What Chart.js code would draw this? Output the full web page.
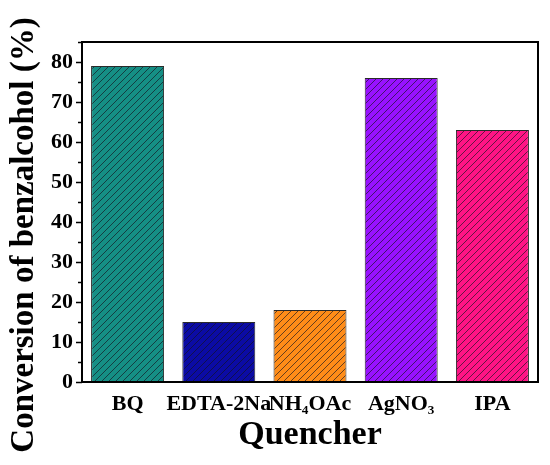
<!DOCTYPE html>
<html>
<head>
<meta charset="utf-8">
<title>Conversion of benzalcohol</title>
<script src="https://cdn.jsdelivr.net/npm/chart.js@4.4.1/dist/chart.umd.min.js"></script>
<style>
  body { margin: 0; background: #fff; }
  #wrap { width: 550px; height: 465px; }
</style>
</head>
<body>
<div id="wrap"><canvas id="QuencherCanvas" width="550" height="465"></canvas></div>
<script>
//------------------------------------------------------------------------------------------------------------
// Data
//------------------------------------------------------------------------------------------------------------
const quenchers = ['BQ', 'EDTA-2Na', 'NH\u2084OAc', 'AgNO\u2083', 'IPA']
const conversion = [79, 15, 18, 76, 63]
const barColors = ['#158f85', '#0b0ba4', '#ff8c18', '#9812ff', '#ff1485']
const yTicks = [0, 10, 20, 30, 40, 50, 60, 70, 80]
const yMax = 85

const serif = "'Liberation Serif', 'Times New Roman', serif"
const quencherCanvas = document.getElementById('QuencherCanvas')

// diagonal hatch fill like the origin plot
function makeHatch(color) {
    let size = 7
    let c = document.createElement('canvas')
    c.width = size
    c.height = size
    let ctx = c.getContext('2d')
    ctx.fillStyle = color
    ctx.fillRect(0, 0, size, size)
    ctx.strokeStyle = 'rgba(20,20,30,0.65)'
    ctx.lineWidth = 1
    ctx.beginPath()
    ctx.moveTo(-1, size + 1)
    ctx.lineTo(size + 1, -1)
    ctx.moveTo(-1, 1)
    ctx.lineTo(1, -1)
    ctx.moveTo(size - 1, size + 1)
    ctx.lineTo(size + 1, size - 1)
    ctx.stroke()
    return quencherCanvas.getContext('2d').createPattern(c, 'repeat')
}

// frame, tick marks and the rotated y title
const framePlugin = {
    id: 'frame',
    afterDraw(chart) {
        let ctx = chart.ctx
        let a = chart.chartArea
        let y = chart.scales.y
        ctx.save()
        ctx.strokeStyle = '#000'
        ctx.lineWidth = 2
        ctx.strokeRect(a.left, a.top, a.right - a.left, a.bottom - a.top)
        ctx.lineWidth = 1.5
        for (let v = 0; v <= yMax; v += 5) {
            let py = Math.round(y.getPixelForValue(v)) + 0.5
            let len = (v % 10 == 0) ? 6 : 4
            ctx.beginPath()
            ctx.moveTo(a.left, py)
            ctx.lineTo(a.left - len, py)
            ctx.stroke()
        }
        ctx.translate(24, 235)
        ctx.rotate(-Math.PI / 2)
        ctx.fillStyle = '#000'
        ctx.font = "bold 33px " + serif
        ctx.textAlign = 'center'
        ctx.textBaseline = 'middle'
        ctx.fillText('Conversion of benzalcohol (%)', 0, 0)
        ctx.restore()
    }
}

var quencherChart = new Chart(quencherCanvas, {
    type: 'bar',
    data: {
        labels: quenchers,
        datasets: [{
            data: conversion,
            backgroundColor: barColors.map(col => makeHatch(col)),
            borderColor: '#2a2a2a',
            borderWidth: 1,
            barPercentage: 0.8,
            categoryPercentage: 1
        }]
    },
    options: {
        responsive: false,
        animation: false,
        layout: { padding: { top: 42, right: 12, left: 0, bottom: 0 } },
        plugins: {
            legend: { display: false },
            tooltip: { enabled: false }
        },
        scales: {
            x: {
                grid: { display: false, drawTicks: false },
                border: { display: false },
                ticks: {
                    color: '#000',
                    padding: 9,
                    maxRotation: 0,
                    autoSkip: false,
                    font: { family: serif, size: 22, weight: 'bold' }
                },
                title: {
                    display: true,
                    text: 'Quencher',
                    color: '#000',
                    padding: { top: 0, bottom: 9 },
                    font: { family: serif, size: 34, weight: 'bold' }
                },
                afterFit: s => { s.height = 83 }
            },
            y: {
                min: 0,
                max: yMax,
                grid: { display: false, drawTicks: false },
                border: { display: false },
                afterBuildTicks: s => { s.ticks = yTicks.map(v => ({ value: v })) },
                ticks: {
                    color: '#000',
                    padding: 9,
                    font: { family: serif, size: 22, weight: 'bold' }
                },
                afterFit: s => { s.width = 82 }
            }
        }
    },
    plugins: [framePlugin]
})
</script>
</body>
</html>
